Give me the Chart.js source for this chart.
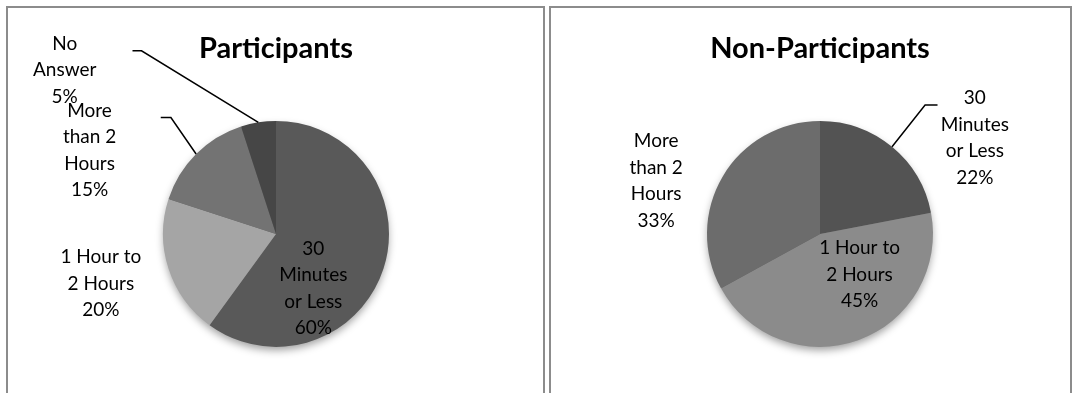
<!DOCTYPE html>
<html>
<head>
<meta charset="utf-8">
<script src="https://cdn.jsdelivr.net/npm/chart.js@4.4.1/dist/chart.umd.min.js"></script>
<style>
    html, body { margin: 0; padding: 0; background: #fff; }
    body { width: 1078px; height: 393px; position: relative; overflow: hidden; }
    .panel { position: absolute; top: 6px; height: 420px; border: 2px solid #8c8c8c; box-sizing: border-box; }
    #panelLeft { left: 6px; width: 539px; }
    #panelRight { left: 549px; width: 523px; }
    canvas { position: absolute; top: 9px; }
    #participantsChart { left: 9px; }
    #nonParticipantsChart { left: 552px; }
</style>
</head>
<body>
<div class="panel" id="panelLeft"></div>
<div class="panel" id="panelRight"></div>
<canvas id="participantsChart" width="534" height="384"></canvas>
<canvas id="nonParticipantsChart" width="518" height="384"></canvas>
<script>
const participantCategories = ['30 Minutes or Less', '1 Hour to 2 Hours', 'More than 2 Hours', 'No Answer'];
const participantValues = [60, 20, 15, 5];

const nonParticipantCategories = ['30 Minutes or Less', '1 Hour to 2 Hours', 'More than 2 Hours'];
const nonParticipantValues = [22, 45, 33];

// how the category names wrap inside the data labels
const wrappedNames = {
    '30 Minutes or Less': ['30', 'Minutes', 'or Less'],
    '1 Hour to 2 Hours': ['1 Hour to', '2 Hours'],
    'More than 2 Hours': ['More', 'than 2', 'Hours'],
    'No Answer': ['No', 'Answer']
};

const FONT = 'Lato, "Open Sans", sans-serif';

// label spots, in units of the pie radius from its centre
const participantSpots = [
    { dx: 0.33, dy: 0.48 },
    { dx: -1.55, dy: 0.44 },
    { dx: -1.65, dy: -0.74, leader: [[-1.02, -1.03], [-0.93, -1.03]] },
    { dx: -1.87, dy: -1.45, leader: [[-1.27, -1.62], [-1.19, -1.62]] }
];
const nonParticipantSpots = [
    { dx: 1.37, dy: -0.85, leader: [[1.04, -1.14], [0.93, -1.14]] },
    { dx: 0.35, dy: 0.36 },
    { dx: -1.45, dy: -0.47 }
];

const pieLabels = {
    id: 'pieLabels',
    beforeDatasetsDraw(chart) {
        const first = chart.getDatasetMeta(0).data[0];
        if (!first) return;
        const { x, y, outerRadius } = first.getProps(['x', 'y', 'outerRadius'], true);
        const ctx = chart.ctx;
        ctx.save();
        ctx.shadowColor = 'rgba(0, 0, 0, 0.4)';
        ctx.shadowBlur = 8;
        ctx.shadowOffsetY = 4;
        ctx.fillStyle = '#666666';
        ctx.beginPath();
        ctx.arc(x, y, outerRadius - 1, 0, Math.PI * 2);
        ctx.fill();
        ctx.restore();
    },
    afterDatasetsDraw(chart, args, opts) {
        const meta = chart.getDatasetMeta(0);
        const values = chart.data.datasets[0].data;
        const total = values.reduce((a, b) => a + b, 0);
        const ctx = chart.ctx;
        ctx.save();
        ctx.font = `19px ${FONT}`;
        ctx.fillStyle = '#000';
        ctx.strokeStyle = '#000';
        ctx.lineWidth = 1.5;
        ctx.textAlign = 'center';
        ctx.textBaseline = 'middle';
        meta.data.forEach((arc, i) => {
            const { x, y, outerRadius: r, startAngle, endAngle } =
                arc.getProps(['x', 'y', 'outerRadius', 'startAngle', 'endAngle'], true);
            const spot = opts.spots[i];
            if (!spot) return;
            const name = chart.data.labels[i];
            const lines = [...(wrappedNames[name] || [name]), `${Math.round(values[i] / total * 100)}%`];
            const cx = x + spot.dx * r;
            const cy = y + spot.dy * r;
            lines.forEach((text, k) => {
                ctx.fillText(text, cx, cy + (k - (lines.length - 1) / 2) * opts.lineHeight);
            });
            if (spot.leader) {
                const mid = (startAngle + endAngle) / 2;
                ctx.beginPath();
                ctx.moveTo(x + spot.leader[0][0] * r, y + spot.leader[0][1] * r);
                ctx.lineTo(x + spot.leader[1][0] * r, y + spot.leader[1][1] * r);
                ctx.lineTo(x + Math.cos(mid) * r, y + Math.sin(mid) * r);
                ctx.stroke();
            }
        });
        ctx.restore();
    }
};

function makePie(id, title, labels, data, colors, spots, padLeft) {
    return new Chart(document.getElementById(id), {
        type: 'pie',
        data: {
            labels,
            datasets: [{
                data,
                backgroundColor: colors,
                borderWidth: 0,
                radius: 113
            }]
        },
        options: {
            responsive: false,
            animation: false,
            layout: { padding: { left: padLeft, right: 0, top: 0, bottom: 0 } },
            plugins: {
                legend: { display: false },
                tooltip: { enabled: false },
                title: {
                    display: true,
                    text: title,
                    color: '#000',
                    font: { family: FONT, size: 29, weight: 'bold', lineHeight: 1.2 },
                    padding: { top: 22, bottom: 9 }
                },
                pieLabels: { spots, lineHeight: 26.5 }
            }
        },
        plugins: [pieLabels]
    });
}

makePie('participantsChart', 'Participants', participantCategories, participantValues,
    ['#595959', '#a5a5a5', '#737373', '#464646'], participantSpots, 0);
makePie('nonParticipantsChart', 'Non-Participants', nonParticipantCategories, nonParticipantValues,
    ['#535353', '#8b8b8b', '#6c6c6c'], nonParticipantSpots, 18);
</script>
</body>
</html>
